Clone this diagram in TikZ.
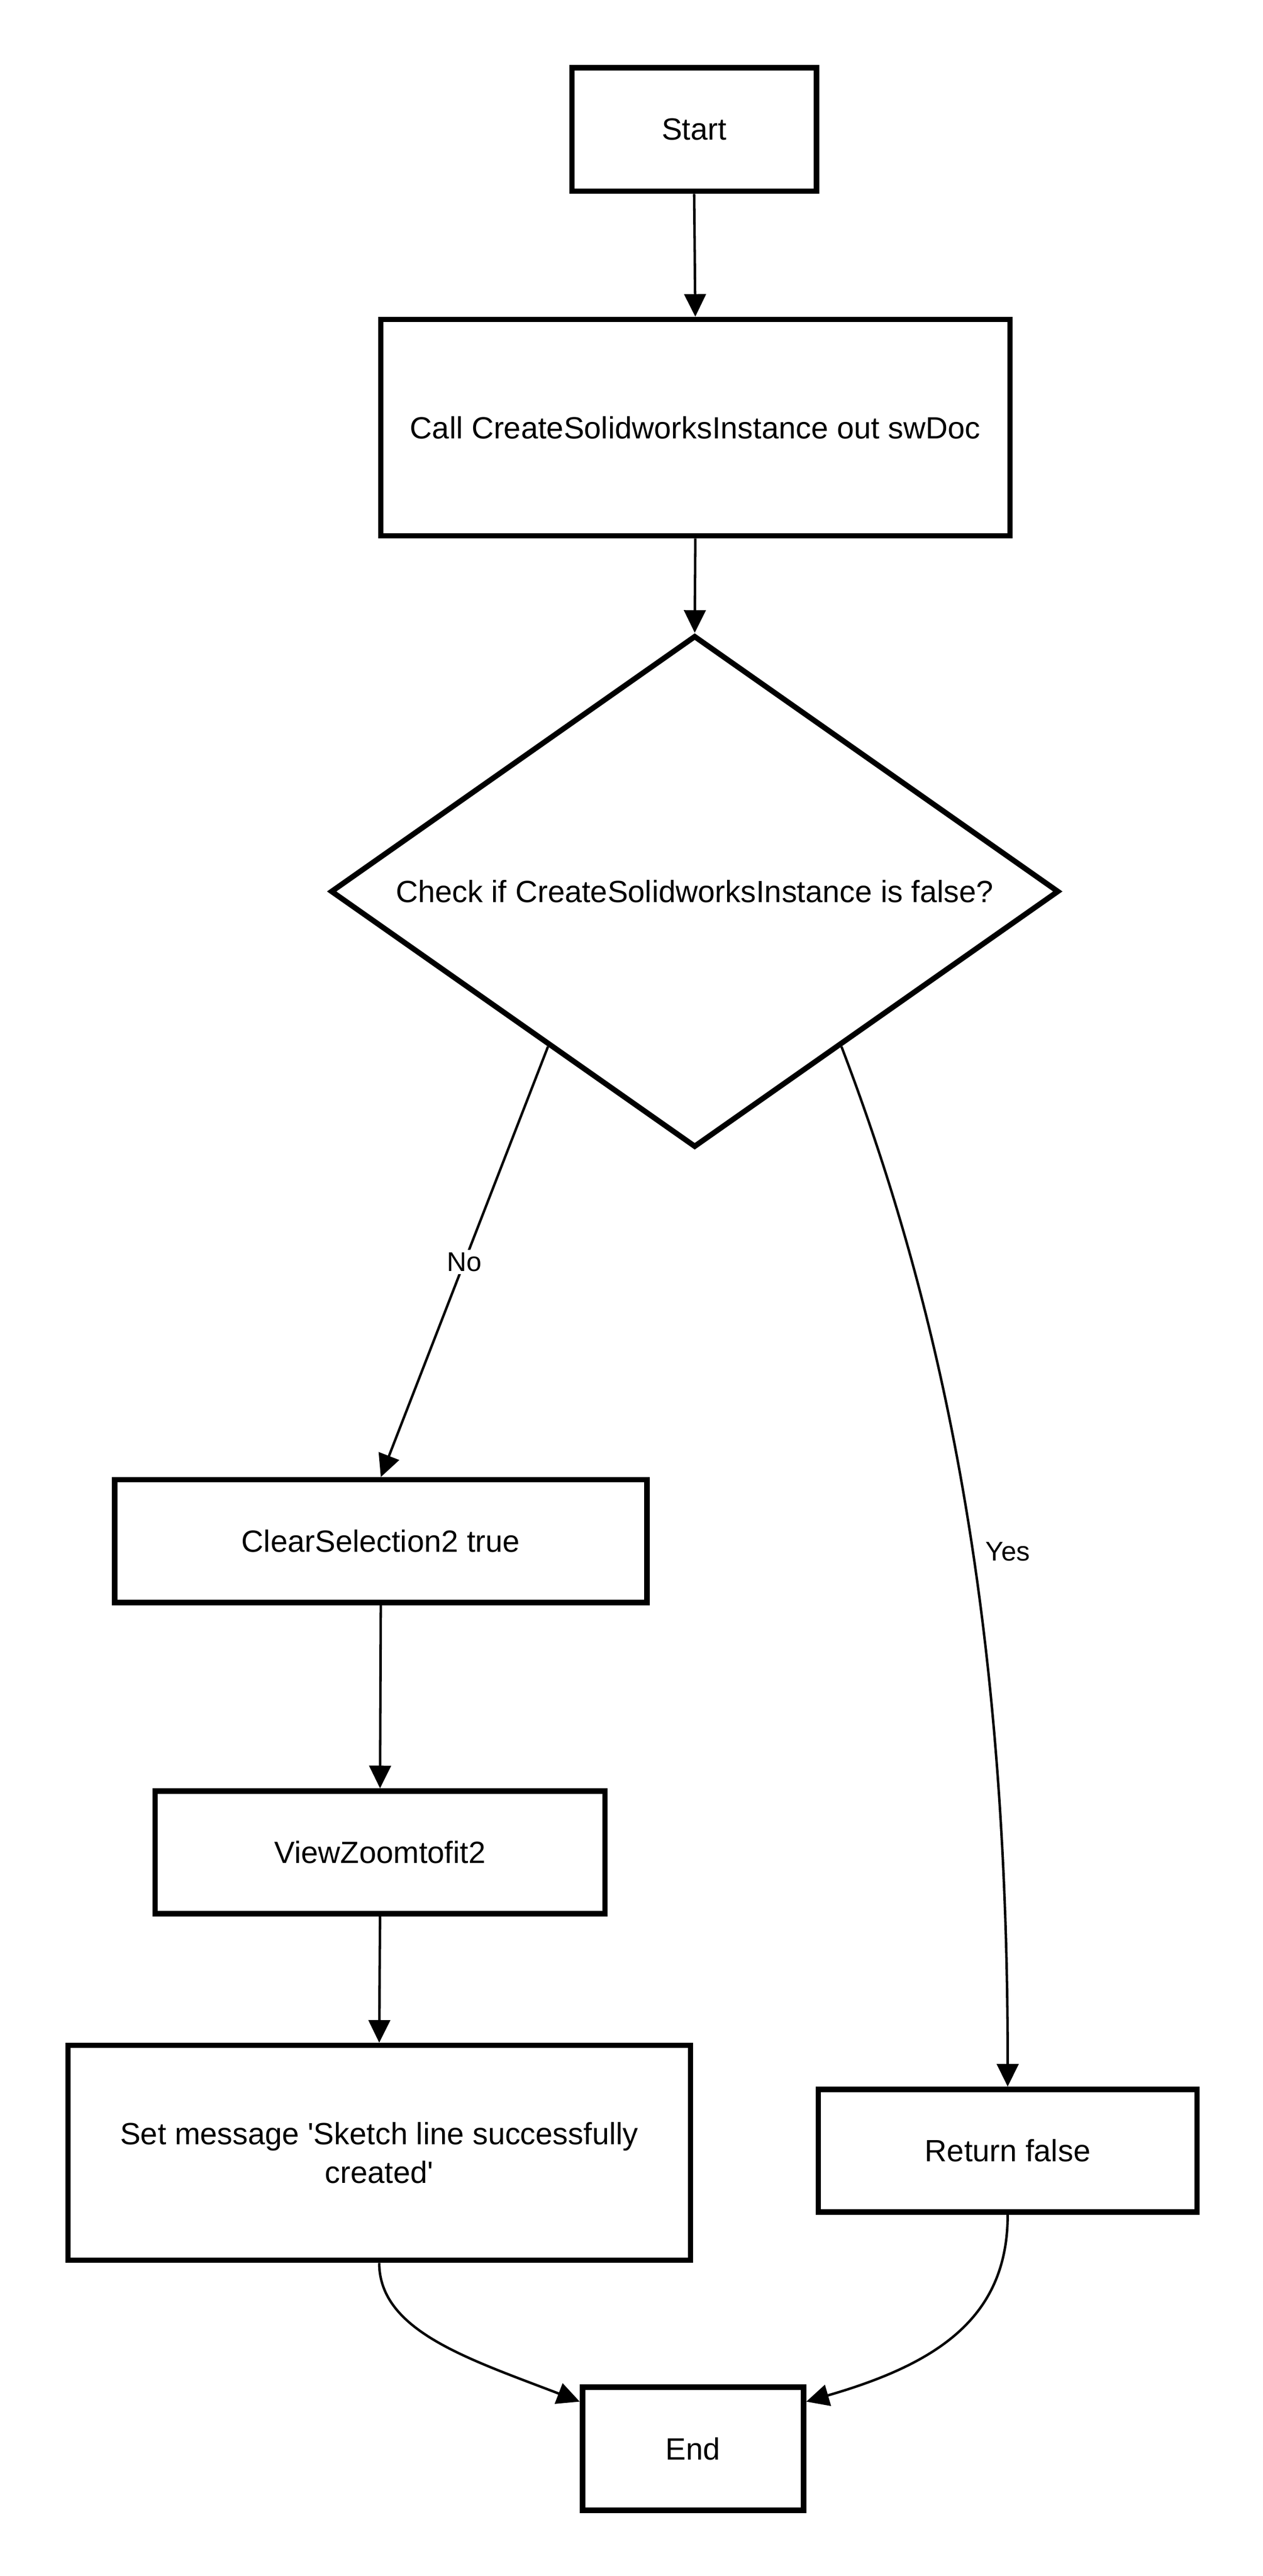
\documentclass[tikz,border=0pt]{standalone}
\usepackage{fontspec}
\setmainfont{Liberation Sans}
\usetikzlibrary{shapes.geometric,arrows.meta,calc}
\def\pxu{0.3197mm}
\begin{document}
\begin{tikzpicture}[x=0.3197mm,y=-0.3197mm,
  box/.style={draw, line width=1.05mm, rectangle, inner sep=0pt, font=\fontsize{17}{21.6}\selectfont, align=center},
  dec/.style={draw, line width=1.05mm, diamond, aspect=1.43, inner sep=0pt, font=\fontsize{17}{21.6}\selectfont, align=center},
  conn/.style={line width=0.48mm, -{Triangle[length=4.4mm,width=4.2mm]}},
  elabel/.style={font=\fontsize{15}{18}\selectfont, fill=white, inner sep=1.5pt}]
\useasboundingbox (0,0) rectangle (767.9,1567.1);
\node[box, minimum width=148.7*\pxu, minimum height=75.1*\pxu] (start) at (422.2,78.8) {Start};
\node[box, minimum width=382.7*\pxu, minimum height=131.7*\pxu] (call) at (422.9,260.15) {Call CreateSolidworksInstance out swDoc};
\node[dec, minimum width=443*\pxu, minimum height=311.4*\pxu] (dec) at (422.55,542.3) {Check if CreateSolidworksInstance is false?};
\node[box, minimum width=323.7*\pxu, minimum height=74.7*\pxu] (clear) at (231.6,937.55) {ClearSelection2 true};
\node[box, minimum width=273.7*\pxu, minimum height=74.7*\pxu] (view) at (231.15,1126.9) {ViewZoomtofit2};
\node[box, minimum width=378.7*\pxu, minimum height=130.7*\pxu] (msg) at (230.65,1309.65) {Set message \textquotesingle Sketch line successfully\\created\textquotesingle};
\node[box, minimum width=230.3*\pxu, minimum height=74.7*\pxu] (ret) at (612.9,1308.35) {Return false};
\node[box, minimum width=134.5*\pxu, minimum height=74.9*\pxu] (end) at (421.5,1489.6) {End};

\draw[conn] (start.south) -- (call.north);
\draw[conn] (call.south) -- (dec.north);
\draw[conn] ($(dec.west)!0.6!(dec.south)$) -- node[elabel] (nolbl) {No} (clear.north);
\draw[conn] ($(dec.east)!0.6!(dec.south)$) .. controls (578,810) and (613,1000) .. (ret.north);
\node[elabel, fill=none] (yeslbl) at (613,944) {Yes};
\draw[conn] (clear.south) -- (view.north);
\draw[conn] (view.south) -- (msg.north);
\draw[conn] (msg.south) .. controls (230.7,1418) and (285,1435) .. ($(end.north west)+(0,10.5)$);
\draw[conn] (ret.south) .. controls (612.9,1410) and (570,1438) .. ($(end.north east)+(0,10.5)$);
\end{tikzpicture}
\end{document}
